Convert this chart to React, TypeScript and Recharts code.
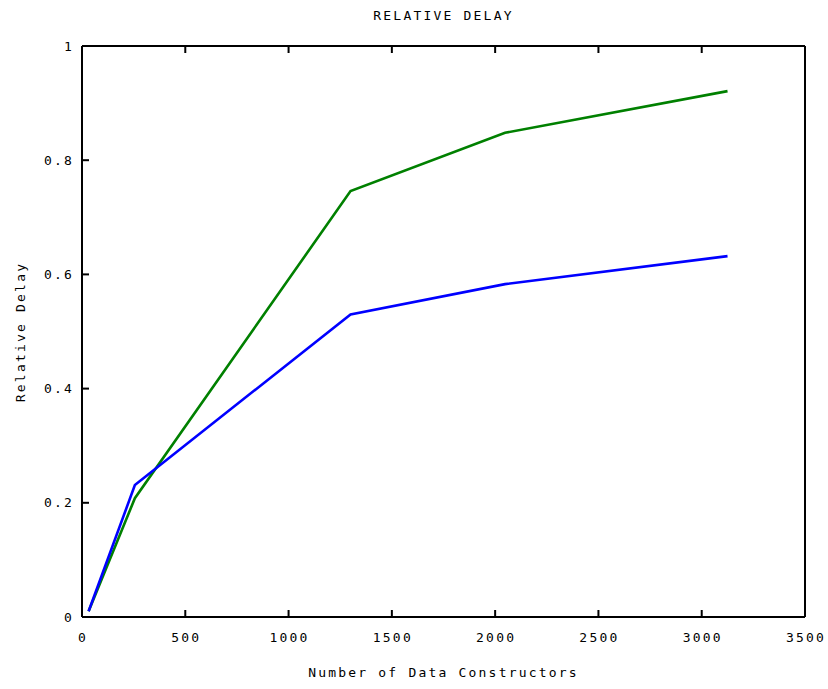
import { LineChart, Line, XAxis, YAxis } from "recharts";

const constructors = [32, 256, 1300, 2048, 3125];
const blueDelay = [0.01, 0.231, 0.53, 0.583, 0.632];
const greenDelay = [0.01, 0.208, 0.746, 0.848, 0.921];
const xTicks = [0, 500, 1000, 1500, 2000, 2500, 3000, 3500];
const yTicks = [0, 0.2, 0.4, 0.6, 0.8, 1];

const data = constructors.map((c, i) => ({ n: c, blue: blueDelay[i], green: greenDelay[i] }));

const FONT = "'DejaVu Sans Mono', 'Liberation Mono', monospace";
const TICK = 7;

const textStyle = { fontFamily: FONT, fontSize: 13, letterSpacing: 2.2, fill: "#000" };

// eslint-disable-next-line @typescript-eslint/no-explicit-any
function BottomTick({ x, y, payload }: any) {
  const axisY = y - 15;
  return (
    <g>
      <line x1={x} x2={x} y1={axisY} y2={axisY - TICK} stroke="#000" strokeWidth={2} />
      <text x={x + 1} y={y + 1} dy="0.71em" textAnchor="middle" style={textStyle}>
        {payload.value}
      </text>
    </g>
  );
}

// eslint-disable-next-line @typescript-eslint/no-explicit-any
function LeftTick({ x, y, payload }: any) {
  const axisX = x + 10;
  return (
    <g>
      <line x1={axisX} x2={axisX + TICK} y1={y} y2={y} stroke="#000" strokeWidth={2} />
      <text x={x + 2} y={y} dy="0.355em" textAnchor="end" style={textStyle}>
        {String(payload.value)}
      </text>
    </g>
  );
}

// eslint-disable-next-line @typescript-eslint/no-explicit-any
function TopTick({ x, y }: any) {
  return <line x1={x} x2={x} y1={y} y2={y + TICK} stroke="#000" strokeWidth={2} />;
}

// eslint-disable-next-line @typescript-eslint/no-explicit-any
function RightTick({ x, y }: any) {
  return <line x1={x} x2={x - TICK} y1={y} y2={y} stroke="#000" strokeWidth={2} />;
}

const axisLine = { stroke: "#000", strokeWidth: 2 };

export default function App() {
  return (
    <div style={{ position: "absolute", left: 0, top: 0, width: 828, height: 689, background: "#fff" }}>
      <div
        style={{
          position: "absolute",
          left: 82,
          width: 723,
          top: 8,
          textAlign: "center",
          fontFamily: FONT,
          fontSize: 13,
          letterSpacing: 2.2,
        }}
      >
        RELATIVE DELAY
      </div>
      <LineChart
        width={828}
        height={689}
        data={data}
        margin={{ top: 45, right: 22, left: 22, bottom: 42 }}
      >
        <XAxis
          xAxisId="b"
          dataKey="n"
          type="number"
          domain={[0, 3500]}
          ticks={xTicks}
          interval={0}
          height={30}
          tickSize={0}
          tickMargin={15}
          axisLine={axisLine}
          tickLine={false}
          tick={<BottomTick />}
        />
        <XAxis
          xAxisId="t"
          dataKey="n"
          orientation="top"
          type="number"
          domain={[0, 3500]}
          ticks={xTicks}
          interval={0}
          height={1}
          tickSize={0}
          tickMargin={0}
          axisLine={axisLine}
          tickLine={false}
          tick={<TopTick />}
        />
        <YAxis
          yAxisId="l"
          type="number"
          domain={[0, 1]}
          ticks={yTicks}
          interval={0}
          width={60}
          tickSize={0}
          tickMargin={10}
          axisLine={axisLine}
          tickLine={false}
          tick={<LeftTick />}
        />
        <YAxis
          yAxisId="r"
          orientation="right"
          type="number"
          domain={[0, 1]}
          ticks={yTicks}
          interval={0}
          width={1}
          tickSize={0}
          tickMargin={0}
          axisLine={axisLine}
          tickLine={false}
          tick={<RightTick />}
        />
        <Line
          xAxisId="b"
          yAxisId="l"
          type="linear"
          dataKey="green"
          stroke="#008000"
          strokeWidth={2.6}
          dot={false}
          isAnimationActive={false}
        />
        <Line
          xAxisId="b"
          yAxisId="l"
          type="linear"
          dataKey="blue"
          stroke="#0000ff"
          strokeWidth={2.6}
          dot={false}
          isAnimationActive={false}
        />
      </LineChart>
      <div
        style={{
          position: "absolute",
          left: 82,
          width: 723,
          top: 665,
          textAlign: "center",
          fontFamily: FONT,
          fontSize: 13,
          letterSpacing: 2.2,
        }}
      >
        Number of Data Constructors
      </div>
      <div
        style={{
          position: "absolute",
          left: 20,
          top: 332,
          transform: "translate(-50%, -50%) rotate(-90deg)",
          whiteSpace: "nowrap",
          fontFamily: FONT,
          fontSize: 13,
          letterSpacing: 2.2,
        }}
      >
        Relative Delay
      </div>
    </div>
  );
}
